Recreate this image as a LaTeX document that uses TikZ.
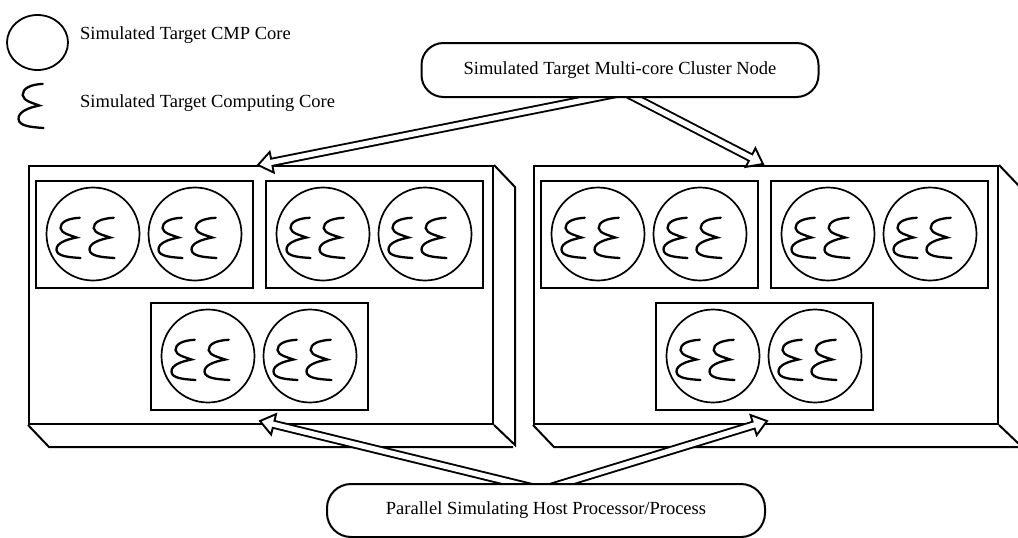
\documentclass[tikz,border=0pt]{standalone}
\usepackage{fontspec}
\setmainfont{Liberation Serif}
\usetikzlibrary{calc,shapes.geometric}
\tikzset{
  ln/.style={line width=2pt},
  frontface/.style={draw, ln, rectangle, inner sep=0pt, minimum width=464pt, minimum height=258pt, anchor=north west},
  cmpbox/.style={draw, ln, rectangle, inner sep=0pt, minimum width=217pt, minimum height=107pt, anchor=north west},
  cmpcore/.style={draw, line width=1.7pt, circle, inner sep=0pt, minimum size=93pt},
  labelnode/.style={draw, ln, rectangle, rounded corners=22pt, fill=white, inner sep=0pt, font=\fontsize{18.5}{22}\selectfont},
  legtext/.style={anchor=west, inner sep=0pt, font=\fontsize{18.5}{22}\selectfont},
  squig/.pic={\draw[line width=2.3pt, line cap=round]
    (0.95,0.02) .. controls (0.5,0.03) and (0.16,0.12) .. (0.18,0.27)
    .. controls (0.2,0.4) and (0.6,0.45) .. (0.82,0.5)
    .. controls (0.4,0.55) and (0,0.64) .. (0.02,0.8)
    .. controls (0.04,0.96) and (0.5,0.98) .. (0.98,1);}
}
\begin{document}
\begin{tikzpicture}[x=1pt,y=-1pt,line join=miter]
\useasboundingbox (0,0) rectangle (1018,538);

% legend
\node[draw, line width=1.8pt, ellipse, inner sep=0pt, minimum width=61pt, minimum height=55pt] (legcore) at (37.5,42.5) {};
\node[legtext] (legt1) at (80,35) {Simulated Target CMP Core};
\pic[xscale=26, yscale=45] at (18,83) {squig};
\node[legtext] (legt2) at (80,103) {Simulated Target Computing Core};

% big 3D boxes
\foreach \n/\bx in {L/28, R/533} {
  \node[frontface] (front\n) at (\bx,165) {};
  \draw[ln] (front\n.north east) -- ++(21,22) -- ++(0,258) -- (front\n.south east);
  \draw[ln] (front\n.south west) -- ++(21,22) -- ++(464,0);
}

% inner CMP boxes with cores
\foreach \n/\bx/\by in {a/35/180, b/265/180, c/150/302, d/540/180, e/770/180, f/655/302} {
  \node[cmpbox] (box\n) at (\bx,\by) {};
  \node[cmpcore] (core\n1) at (\bx+58,\by+54) {};
  \node[cmpcore] (core\n2) at (\bx+160,\by+54) {};
  \foreach \cx in {58,160} {
    \pic[xscale=25, yscale=41] at (\bx+\cx-37,\by+37) {squig};
    \pic[xscale=26, yscale=41] at (\bx+\cx-4,\by+37) {squig};
  }
}

% arrow end points
\coordinate (ts) at (624,92);
\coordinate (bs) at (542,490);
\coordinate (tl) at (258,165);
\coordinate (tr) at (763,164);
\coordinate (bl) at (260,421);
\coordinate (br) at (767,421);

% hollow arrows: outer shafts, heads, inner shafts
\foreach \s/\t in {ts/tl, ts/tr, bs/bl, bs/br} {
  \draw[line width=9pt] (\s) -- ($(\t)!14pt!(\s)$);
}
\foreach \s/\t in {ts/tl, ts/tr, bs/bl, bs/br} {
  \coordinate (hb) at ($(\t)!14pt!(\s)$);
  \draw[line width=1.9pt, fill=white] (\t) -- ($(hb)!10.5pt!90:(\t)$) -- ($(hb)!10.5pt!-90:(\t)$) -- cycle;
}
\foreach \s/\t in {ts/tl, ts/tr, bs/bl, bs/br} {
  \draw[white, line width=5.2pt] (\s) -- ($(\t)!11pt!(\s)$);
}

% labelled nodes
\node[labelnode, minimum width=397pt, minimum height=54pt] (cluster) at (620,70) {Simulated Target Multi-core Cluster Node};
\node[labelnode, rounded corners=24pt, minimum width=438pt, minimum height=53pt] (host) at (546,510.5) {Parallel Simulating Host Processor/Process};
\end{tikzpicture}
\end{document}
